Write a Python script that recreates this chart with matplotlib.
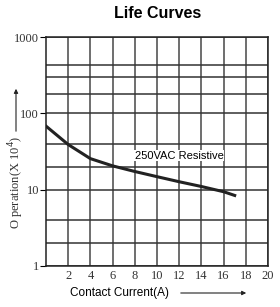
import matplotlib
matplotlib.use("Agg")
import matplotlib.pyplot as plt
import numpy as np

# curve
current = [0, 2, 4, 6, 8, 10, 12, 14, 16, 17]
operations = [68, 39, 25.5, 20.5, 17.3, 14.8, 12.7, 11, 9.4, 8.4]

x_ticks = [2, 4, 6, 8, 10, 12, 14, 16, 18, 20]
y_ticks = [1, 10, 100, 1000]
y_grid = [2, 4, 20, 40, 180, 300, 430]

sans = ['Liberation Sans', 'DejaVu Sans']
serif = ['Liberation Serif', 'DejaVu Serif']

fig = plt.figure(figsize=(2.8, 3.07), dpi=100)
ax = fig.add_axes([46 / 280, 1 - 266 / 307, 222 / 280, 229 / 307])

ax.set_yscale('log')
ax.set_xlim(0, 20)
ax.set_ylim(1, 1000)

for x in x_ticks:
    ax.axvline(x, color='#555555', lw=1.2, zorder=1)
for y in y_grid + y_ticks:
    ax.axhline(y, color='#333333', lw=1.1, zorder=1)

ax.plot(current, operations, color='#222222', lw=2.2, zorder=3)

ax.text(12, 28, '250VAC Resistive', fontsize=8, family=sans, ha='center', va='center',
        bbox=dict(facecolor='white', edgecolor='none', pad=0.2), zorder=2)

ax.set_xticks(x_ticks)
ax.set_xticklabels([str(v) for v in x_ticks], family=serif, fontsize=9, color='#333333')
ax.set_yticks(y_ticks)
ax.set_yticklabels([str(v) for v in y_ticks], family=serif, fontsize=9, color='#333333')
ax.minorticks_off()
ax.tick_params(axis='x', length=0, pad=3)
ax.tick_params(axis='y', length=4, width=0.8, pad=1)
for s in ax.spines.values():
    s.set_linewidth(1.1)
    s.set_color('#222222')

fig.text(158 / 280, 1 - 13 / 307, 'Life Curves', fontsize=11.5, fontweight='bold',
         family=sans, ha='center', va='center')

fig.text(120 / 280, 1 - 293 / 307, 'Contact Current(A)', fontsize=8.5, family=sans,
         ha='center', va='center')
fig.text(16 / 280, 1 - 182 / 307, 'O peration(X 10$^4$)', fontsize=9, family=serif,
         rotation=90, ha='center', va='center', color='#333333')

fig.add_artist(plt.matplotlib.patches.FancyArrowPatch(
    (178 / 280, 1 - 293 / 307), (249 / 280, 1 - 293 / 307), transform=fig.transFigure,
    arrowstyle='-|>', mutation_scale=6, lw=0.8, color='#222222'))
fig.add_artist(plt.matplotlib.patches.FancyArrowPatch(
    (16 / 280, 1 - 134 / 307), (16 / 280, 1 - 86 / 307), transform=fig.transFigure,
    arrowstyle='-|>', mutation_scale=6, lw=0.8, color='#222222'))

fig.savefig('out.png', dpi=100)
